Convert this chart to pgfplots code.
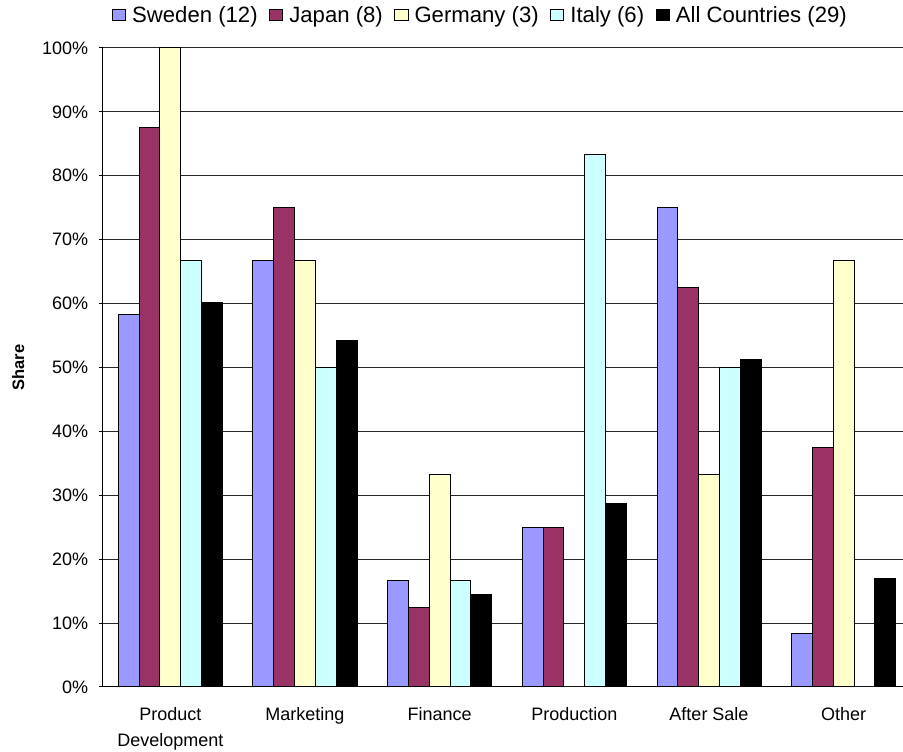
\documentclass[border=0pt]{standalone}
\usepackage{pgfplots}
\pgfplotsset{compat=1.18}
\usepackage{fontspec}
\setmainfont{Liberation Sans}

\definecolor{sweden}{HTML}{9999FF}
\definecolor{japan}{HTML}{993366}
\definecolor{germany}{HTML}{FFFFCC}
\definecolor{italy}{HTML}{CCFFFF}

\begin{document}
\begin{tikzpicture}
\begin{axis}[
  at={(0,0)}, anchor=south west,
  scale only axis,
  width=606pt, height=479.25pt,
  ybar=0pt, bar width=15.6pt,
  xmin=-0.5, xmax=5.5,
  ymin=0, ymax=100,
  axis x line*=bottom, axis y line*=left,
  axis line style={black, line width=0.75pt},
  xtick={0,1,2,3,4,5},
  xticklabels={Product\\Development, Marketing, Finance, Production, After Sale, Other},
  major x tick style={draw=none},
  extra x ticks={-0.5,0.5,1.5,2.5,3.5,4.5},
  extra x tick labels={},
  extra x tick style={major tick length=3.75pt, tick align=outside,
    tick style={black, line width=0.75pt}, grid=none},
  xticklabel style={font=\fontsize{13.5}{19.5}\selectfont, align=center,
    anchor=north, inner sep=0pt, yshift=-12pt},
  ytick={0,10,...,100},
  yticklabels={0\%,10\%,20\%,30\%,40\%,50\%,60\%,70\%,80\%,90\%,100\%},
  yticklabel style={font=\fontsize{13.5}{16}\selectfont, anchor=east, inner sep=0pt, xshift=-8pt},
  ytick align=outside, major tick length=3pt,
  ytick style={black, line width=0.75pt},
  ymajorgrids, major grid style={black!85, line width=0.75pt},
  ylabel={Share},
  ylabel style={font=\fontsize{12.4}{14}\bfseries, at={(axis description cs:-0.105,0.5)}, anchor=center, rotate=0},
  legend columns=-1,
  legend style={at={(axis description cs:0.4666,1.0516)}, anchor=center,
    draw=none, fill=none, font=\fontsize{16.6}{19}\selectfont,
    nodes={inner sep=1pt},
    /tikz/every odd column/.append style={column sep=3.5pt},
    /tikz/every even column/.append style={column sep=7.5pt}},
  legend image code/.code={\draw[#1, line width=0.75pt] (0pt,-4.2pt) rectangle (10pt,4.2pt);},
  every axis plot/.append style={draw=black, line width=0.75pt},
]
% Sweden (12)
\addplot[fill=sweden] coordinates {(0,58.3) (1,66.7) (2,16.7) (3,25) (4,75) (5,8.3)};
% Japan (8)
\addplot[fill=japan] coordinates {(0,87.5) (1,75) (2,12.5) (3,25) (4,62.5) (5,37.5)};
% Germany (3)
\addplot[fill=germany] coordinates {(0,100) (1,66.7) (2,33.3) (3,0) (4,33.3) (5,66.7)};
% Italy (6)
\addplot[fill=italy] coordinates {(0,66.7) (1,50) (2,16.7) (3,83.3) (4,50) (5,0)};
% All countries (29)
\addplot[fill=black] coordinates {(0,60.2) (1,54.2) (2,14.4) (3,28.7) (4,51.3) (5,17.0)};
\legend{Sweden (12), Japan (8), Germany (3), Italy (6), All Countries (29)}
\end{axis}
\pgfresetboundingbox
\useasboundingbox (-77.25pt,-48.75pt) rectangle (600pt,515.25pt);
\end{tikzpicture}
\end{document}
